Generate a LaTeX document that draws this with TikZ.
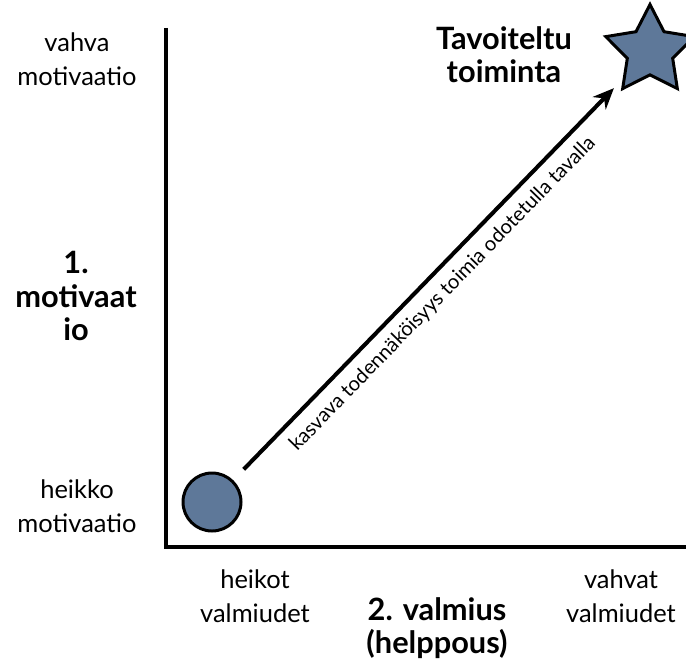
\documentclass[tikz,border=0pt]{standalone}
\usepackage{fontspec}
\setmainfont{Lato}
\usetikzlibrary{shapes.geometric,arrows.meta,positioning}
\definecolor{slateBlue}{RGB}{94,120,153}

\begin{document}
\begin{tikzpicture}[
    axis/.style={line width=2.3pt},
    lbl/.style={align=center, font=\fontsize{14.5}{19.3}\selectfont},
    boldlbl/.style={align=center, font=\fontsize{17.5}{19}\selectfont\bfseries},
    marker/.style={draw, line width=1.7pt, fill=slateBlue, inner sep=0pt}]
        \useasboundingbox (0,0) rectangle (13.72,13.18);

        % Axes
        \coordinate (ytop) at (3.32,12.62);
        \coordinate (origin) at (3.32,2.24);
        \coordinate (xend) at (13.72,2.24);
        \draw[axis] (ytop) -- (origin) -- (xend);

        % Start point and goal
        \node[marker, circle, minimum size=1.16cm] (dot) at (4.24,3.14) {};
        \node[marker, star, star points=5, star point ratio=1.95, minimum size=1.86cm] (goal) at (13.0,12.16) {};

        \draw[-{Stealth[length=0.42cm,width=0.36cm]}, line width=2.3pt, shorten <=0.3cm, shorten >=0.25cm] (dot) -- (goal)
            node[sloped, below=2pt, pos=0.5, font=\fontsize{11.5}{13}\selectfont] {kasvava todennäköisyys toimia odotetulla tavalla};

        % Vertical axis labels
        \node[lbl] (vstrong) at (1.54,12.0) {vahva\\motivaatio};
        \node[boldlbl] (vtitle) at (1.52,7.26) {1.\\motivaat\\io};
        \node[lbl] (vweak) at (1.54,3.06) {heikko\\motivaatio};

        \node[boldlbl] (goaltext) at (10.08,12.08) {Tavoiteltu\\toiminta};

        % Horizontal axis labels
        \node[lbl] (hweak) at (5.1,1.26) {heikot\\valmiudet};
        \node[lbl] (hstrong) at (12.42,1.26) {vahvat\\valmiudet};
        \node[boldlbl] (htitle) at (8.74,0.62) {2. valmius\\(helppous)};
    \end{tikzpicture}
\end{document}
